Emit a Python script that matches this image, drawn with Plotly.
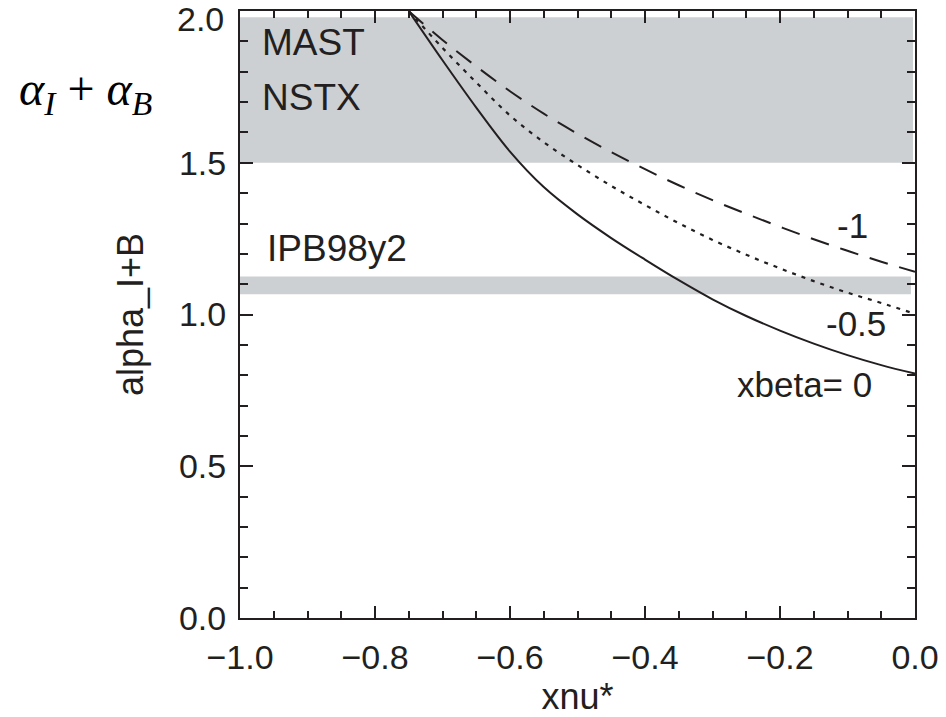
import plotly.graph_objects as go

# ---- data ----
xnu = [-0.75, -0.70, -0.65, -0.60, -0.55, -0.50, -0.45, -0.40, -0.35,
       -0.30, -0.25, -0.20, -0.15, -0.10, -0.05, 0.00]
alpha_beta0 = [2.00, 1.838, 1.682, 1.537, 1.420, 1.330, 1.252, 1.181, 1.113,
               1.050, 0.995, 0.947, 0.904, 0.866, 0.833, 0.805]
alpha_beta_m05 = [2.00, 1.879, 1.765, 1.656, 1.568, 1.493, 1.424, 1.361, 1.301,
                  1.246, 1.197, 1.152, 1.110, 1.072, 1.038, 1.002]
alpha_beta_m1 = [2.00, 1.905, 1.818, 1.736, 1.662, 1.596, 1.535, 1.479, 1.426,
                 1.377, 1.332, 1.289, 1.248, 1.210, 1.174, 1.141]

band_labels = ["MAST / NSTX", "IPB98y2"]
band_low = [1.50, 1.067]
band_high = [1.98, 1.125]
band_xstart = [-1.0, -1.0]
band_xend = [-0.003, -0.006]

x_tickvals = [-1.0, -0.8, -0.6, -0.4, -0.2, 0.0]
x_ticktext = ["\u22121.0", "\u22120.8", "\u22120.6", "\u22120.4", "\u22120.2", "0.0"]
y_tickvals = [0.0, 0.5, 1.0, 1.5, 2.0]
y_ticktext = ["0.0", "0.5", "1.0", "1.5", "2.0"]

INK = "#231f20"
BAND = "#cdd0d3"
FONT = "Liberation Sans, Arial, Helvetica, sans-serif"

fig = go.Figure()

for lo, hi, xs, xe in zip(band_low, band_high, band_xstart, band_xend):
    fig.add_shape(type="rect", xref="x", yref="y", x0=xs, x1=xe, y0=lo, y1=hi,
                  fillcolor=BAND, line=dict(width=0), layer="below")

fig.add_trace(go.Scatter(x=xnu, y=alpha_beta0, mode="lines",
                         line=dict(color=INK, width=2, shape="spline", smoothing=1.0),
                         showlegend=False))
fig.add_trace(go.Scatter(x=xnu, y=alpha_beta_m05, mode="lines",
                         line=dict(color=INK, width=2.2, shape="spline", smoothing=1.0,
                                   dash="4px,6px"),
                         showlegend=False))
fig.add_trace(go.Scatter(x=xnu, y=alpha_beta_m1, mode="lines",
                         line=dict(color=INK, width=2, shape="spline", smoothing=1.0,
                                   dash="19px,12px"),
                         showlegend=False))

labels = [
    ("MAST", -0.970, 1.896, "left", 37),
    ("NSTX", -0.970, 1.715, "left", 37),
    ("IPB98y2", -0.963, 1.219, "left", 37),
    ("-1", -0.092, 1.292, "center", 35),
    ("-0.5", -0.087, 0.969, "center", 35),
    ("xbeta= 0", -0.164, 0.768, "center", 35),
]
for txt, x, y, anc, size in labels:
    fig.add_annotation(x=x, y=y, xref="x", yref="y", text=txt, showarrow=False,
                       xanchor=anc, yanchor="middle",
                       font=dict(family=FONT, size=size, color=INK))

PL, PR, PT, PB, W, H = 240, 31, 11, 99, 946, 717
PW, PH = W - PL - PR, H - PB - PT
fig.add_annotation(x=(85 - PL) / PW, y=(H - PB - 92) / PH,
                   xref="paper", yref="paper",
                   text="<i>\u03b1</i><sub><i>I</i></sub> + <i>\u03b1</i><sub><i>B</i></sub>",
                   showarrow=False, xanchor="center", yanchor="middle",
                   font=dict(family="Liberation Serif, Times New Roman, serif", size=48,
                             color="black"))

# the top y tick label sits slightly lower in the reference so it stays inside the image
y_ticktext_axis = y_ticktext[:-1] + [""]
fig.add_annotation(x=(226 - PL) / PW, y=(H - PB - 19) / PH, xref="paper", yref="paper",
                   text=y_ticktext[-1], showarrow=False, xanchor="right", yanchor="middle",
                   font=dict(family=FONT, size=34, color=INK))

axis_common = dict(showgrid=False, zeroline=False, showline=True, linecolor=INK,
                   linewidth=2, mirror="ticks", ticks="inside", tickwidth=2,
                   tickcolor=INK, ticklabeloverflow="allow",
                   tickfont=dict(family=FONT, size=34, color=INK))

fig.update_xaxes(range=[-1.0, 0.0], tickvals=x_tickvals, ticktext=x_ticktext,
                 ticklen=12, ticklabelstandoff=8,
                 minor=dict(dtick=0.05, tick0=0, ticks="inside", ticklen=7,
                            tickwidth=2, tickcolor=INK),
                 title=dict(text="xnu*", font=dict(family=FONT, size=36, color=INK),
                            standoff=12),
                 **axis_common)
fig.update_yaxes(range=[-0.0005, 2.0005], tickvals=y_tickvals, ticktext=y_ticktext_axis,
                 ticklen=13, ticklabelstandoff=5,
                 minor=dict(dtick=0.1, tick0=0, ticks="inside", ticklen=8,
                            tickwidth=2, tickcolor=INK),
                 title=dict(text="alpha_I+B", font=dict(family=FONT, size=36, color=INK),
                            standoff=24),
                 **axis_common)

fig.update_layout(width=W, height=H, paper_bgcolor="white", plot_bgcolor="white",
                  margin=dict(l=PL, r=PR, t=PT, b=PB, autoexpand=False),
                  showlegend=False)

fig.write_html("out.html")
